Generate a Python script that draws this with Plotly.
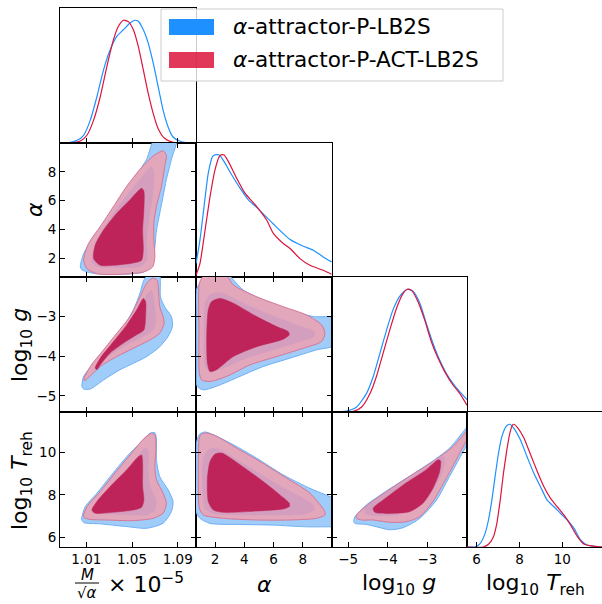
import plotly.graph_objects as go

# ---------------- parameters / axes ----------------
PARAM_RANGES = [(0.987, 1.106), (0.7, 10.0), (-5.41, -2.0), (5.55, 11.85)]
ROW_RANGES = [(0.987, 1.106), (0.7, 10.0), (-5.41, -2.0), (5.55, 11.9)]
TICKVALS = [[1.01, 1.05, 1.09], [2, 4, 6, 8], [-5, -4, -3], [6, 8, 10]]
TICKTEXT = [["1.01", "1.05", "1.09"], ["2", "4", "6", "8"], ["\u22125", "\u22124", "\u22123"], ["6", "8", "10"]]
LEGEND_NAMES = ["\u03b1-attractor-P-LB2S", "\u03b1-attractor-P-ACT-LB2S"]

# ---------------- 1D marginals ----------------
m_blue_x = [0.987, 0.9932, 1.0019, 1.0077, 1.0135, 1.0193, 1.0251, 1.0309, 1.0367, 1.0425, 1.0483, 1.0526, 1.0555, 1.0599, 1.0642, 1.0686, 1.0729, 1.0772, 1.0816, 1.0859, 1.0917, 1.0975, 1.1057]
m_blue_y = [0, 0.0, 0.022, 0.063, 0.186, 0.377, 0.596, 0.760, 0.869, 0.923, 0.978, 1.0, 0.992, 0.923, 0.814, 0.650, 0.459, 0.268, 0.131, 0.049, 0.016, 0.003, 0.0]
m_red_x = [0.987, 0.9961, 1.0048, 1.0106, 1.0164, 1.0222, 1.0280, 1.0338, 1.0381, 1.0425, 1.0468, 1.0512, 1.0555, 1.0599, 1.0642, 1.0686, 1.0729, 1.0787, 1.0859, 1.1057]
m_red_y = [0, 0.0, 0.016, 0.063, 0.186, 0.377, 0.623, 0.842, 0.951, 1.0, 0.989, 0.923, 0.787, 0.596, 0.404, 0.240, 0.117, 0.036, 0.005, 0.0]

a_blue_x = [0.70, 0.97, 1.25, 1.54, 1.84, 2.07, 2.30, 2.57, 3.14, 3.71, 4.28, 4.85, 5.99, 7.13, 8.04, 8.72, 9.40, 9.97]
a_blue_y = [0.110, 0.303, 0.578, 0.853, 0.990, 1.004, 1.001, 0.957, 0.839, 0.729, 0.633, 0.572, 0.435, 0.308, 0.253, 0.220, 0.165, 0.124]
a_red_x = [0.70, 0.97, 1.32, 1.66, 2.00, 2.30, 2.46, 2.62, 2.91, 3.48, 4.05, 4.85, 5.53, 5.99, 6.67, 7.13, 7.81, 8.49, 9.40, 9.97]
a_red_y = [0.014, 0.110, 0.385, 0.660, 0.880, 0.990, 1.004, 1.001, 0.949, 0.811, 0.688, 0.578, 0.468, 0.358, 0.275, 0.234, 0.151, 0.096, 0.055, 0.022]

g_blue_x = [-5.41, -5.04, -4.79, -4.54, -4.37, -4.20, -4.03, -3.87, -3.70, -3.51, -3.36, -3.19, -3.03, -2.86, -2.69, -2.52, -2.35, -2.18, -2.0]
g_blue_y = [0, 0.008, 0.041, 0.150, 0.287, 0.478, 0.669, 0.832, 0.942, 1.0, 0.983, 0.887, 0.723, 0.560, 0.423, 0.314, 0.232, 0.164, 0.101]
g_red_x = [-5.41, -4.87, -4.66, -4.45, -4.29, -4.12, -3.95, -3.78, -3.61, -3.51, -3.40, -3.24, -3.07, -2.90, -2.73, -2.56, -2.35, -2.18, -2.0]
g_red_y = [0, 0.005, 0.041, 0.150, 0.287, 0.478, 0.669, 0.846, 0.969, 1.0, 0.991, 0.901, 0.751, 0.573, 0.437, 0.327, 0.218, 0.150, 0.055]

t_blue_x = [5.55, 5.92, 6.16, 6.39, 6.55, 6.71, 6.86, 7.02, 7.18, 7.38, 7.54, 7.73, 8.04, 8.35, 8.67, 8.98, 9.29, 9.61, 9.92, 10.24, 10.55, 10.86, 11.18, 11.85]
t_blue_y = [0, 0, 0.027, 0.109, 0.218, 0.382, 0.573, 0.764, 0.901, 0.983, 1.0, 0.969, 0.873, 0.737, 0.600, 0.491, 0.382, 0.328, 0.273, 0.218, 0.150, 0.055, 0.014, 0]
t_red_x = [5.55, 6.31, 6.55, 6.78, 6.94, 7.10, 7.25, 7.41, 7.55, 7.68, 7.74, 7.90, 8.20, 8.51, 8.82, 9.14, 9.45, 9.76, 10.08, 10.39, 10.71, 11.02, 11.85]
t_red_y = [0, 0, 0.022, 0.082, 0.191, 0.382, 0.600, 0.791, 0.928, 0.995, 1.0, 0.975, 0.890, 0.755, 0.620, 0.491, 0.396, 0.328, 0.259, 0.177, 0.082, 0.022, 0]

# ---------------- 2D contours (outer = 95%, inner = 68%) ----------------
# (M, alpha)
ma_blue_outer = ([1.0048, 1.0077, 1.0164, 1.0280, 1.0396, 1.0512, 1.0628, 1.0700, 1.0888, 1.0845, 1.0801, 1.0772, 1.0743, 1.0714, 1.0700, 1.0671, 1.0599, 1.0367, 1.0164, 1.0062],
                 [1.40, 2.33, 3.50, 4.66, 6.07, 7.47, 8.87, 10.3, 10.3, 8.87, 7.47, 6.30, 5.13, 3.96, 2.79, 1.51, 1.04, 0.88, 0.95, 1.20])
ma_red_outer = ([1.0077, 1.0120, 1.0222, 1.0338, 1.0454, 1.0570, 1.0686, 1.0772, 1.0801, 1.0787, 1.0758, 1.0714, 1.0691, 1.0691, 1.0700, 1.0680, 1.0599, 1.0367, 1.0193, 1.0106],
                [1.86, 3.03, 4.20, 5.60, 7.00, 8.17, 9.10, 9.45, 9.15, 8.40, 7.00, 5.60, 4.43, 3.26, 2.09, 1.39, 1.04, 0.88, 0.93, 1.28])
ma_blue_inner = ([1.0149, 1.0178, 1.0280, 1.0425, 1.0570, 1.0671, 1.0691, 1.0680, 1.0651, 1.0628, 1.0628, 1.0570, 1.0367, 1.0193],
                 [1.74, 3.03, 4.43, 6.07, 7.47, 8.36, 7.93, 6.30, 4.90, 3.26, 1.86, 1.44, 1.35, 1.44])
ma_red_inner = ([1.0164, 1.0178, 1.0251, 1.0367, 1.0483, 1.0584, 1.0604, 1.0604, 1.0593, 1.0599, 1.0584, 1.0512, 1.0338, 1.0222],
                [1.98, 2.91, 3.96, 5.13, 6.07, 6.86, 6.65, 5.36, 3.96, 2.56, 1.86, 1.67, 1.51, 1.51])

# (M, log10 g)
mg_blue_outer = ([1.0062, 1.0077, 1.0193, 1.0309, 1.0425, 1.0512, 1.0570, 1.0604, 1.0657, 1.0738, 1.0749, 1.0787, 1.0845, 1.0854, 1.0816, 1.0743, 1.0628, 1.0512, 1.0396, 1.0251, 1.0135, 1.0077],
                 [-4.76, -4.51, -4.09, -3.67, -3.25, -2.83, -2.41, -2.08, -1.9, -1.9, -2.50, -2.76, -3.00, -3.25, -3.50, -3.76, -4.01, -4.18, -4.34, -4.60, -4.83, -4.83])
mg_red_outer = ([1.0077, 1.0135, 1.0251, 1.0367, 1.0483, 1.0570, 1.0628, 1.0680, 1.0720, 1.0732, 1.0743, 1.0772, 1.0781, 1.0743, 1.0657, 1.0512, 1.0367, 1.0222, 1.0135, 1.0091],
                [-4.60, -4.26, -3.84, -3.42, -3.00, -2.50, -2.16, -2.03, -2.08, -2.33, -2.75, -3.00, -3.17, -3.42, -3.59, -3.80, -4.01, -4.26, -4.50, -4.61])
mg_blue_inner = ([1.0164, 1.0280, 1.0425, 1.0541, 1.0628, 1.0671, 1.0694, 1.0709, 1.0686, 1.0599, 1.0454, 1.0309, 1.0193],
                 [-4.34, -3.92, -3.42, -2.92, -2.45, -2.34, -2.66, -3.08, -3.34, -3.50, -3.71, -3.97, -4.26])
mg_red_inner = ([1.0178, 1.0222, 1.0338, 1.0454, 1.0541, 1.0599, 1.0619, 1.0619, 1.0604, 1.0541, 1.0425, 1.0309, 1.0222, 1.0193],
                [-4.30, -4.05, -3.63, -3.21, -2.83, -2.54, -2.62, -3.00, -3.34, -3.46, -3.67, -3.92, -4.22, -4.34])

# (M, log10 Treh)
mt_blue_outer = ([1.0062, 1.0091, 1.0193, 1.0309, 1.0454, 1.0570, 1.0657, 1.0700, 1.0714, 1.0714, 1.0743, 1.0816, 1.0859, 1.0845, 1.0772, 1.0628, 1.0454, 1.0222, 1.0077, 1.0057],
                 [6.98, 7.45, 8.08, 8.86, 9.80, 10.43, 10.90, 10.93, 10.59, 9.65, 8.86, 8.24, 7.69, 7.22, 6.67, 6.43, 6.51, 6.64, 6.70, 6.90])
mt_red_outer = ([1.0077, 1.0106, 1.0222, 1.0338, 1.0483, 1.0599, 1.0671, 1.0700, 1.0709, 1.0700, 1.0714, 1.0772, 1.0801, 1.0772, 1.0686, 1.0512, 1.0280, 1.0128, 1.0077],
                [7.06, 7.45, 8.16, 8.94, 9.88, 10.62, 10.90, 10.82, 10.12, 9.33, 8.71, 8.08, 7.61, 7.14, 6.90, 6.79, 6.82, 6.85, 6.95])
mt_blue_inner = ([1.0149, 1.0251, 1.0396, 1.0541, 1.0613, 1.0642, 1.0642, 1.0657, 1.0709, 1.0700, 1.0628, 1.0454, 1.0222, 1.0149],
                 [7.29, 8.00, 8.86, 9.73, 10.20, 10.12, 9.18, 8.39, 7.76, 7.29, 7.06, 7.06, 7.11, 7.17])
mt_red_inner = ([1.0149, 1.0193, 1.0309, 1.0454, 1.0555, 1.0584, 1.0593, 1.0593, 1.0604, 1.0584, 1.0512, 1.0309, 1.0178],
                [7.29, 7.69, 8.39, 9.18, 9.80, 9.88, 9.49, 8.39, 7.76, 7.42, 7.29, 7.17, 7.14])

# (alpha, log10 g)
ag_blue_outer = ([0.75, 1.1, 1.5, 2.9, 3.2, 3.94, 5.30, 7.13, 8.72, 10.3, 10.3, 8.95, 7.13, 5.30, 3.71, 2.11, 1.2, 0.78, 0.72, 0.72],
                 [-2.3, -2.08, -1.95, -1.95, -2.05, -2.33, -2.58, -2.83, -3.0, -3.04, -3.71, -3.84, -4.05, -4.26, -4.51, -4.76, -4.85, -4.76, -4.2, -3.0])
ag_red_outer = ([0.93, 1.2, 2.8, 3.25, 4.85, 6.67, 8.26, 9.29, 9.52, 9.29, 8.04, 6.21, 4.39, 2.80, 1.66, 1.09, 0.93, 0.90],
                [-2.16, -1.98, -1.98, -2.20, -2.50, -2.75, -2.96, -3.21, -3.42, -3.63, -3.80, -4.01, -4.22, -4.51, -4.64, -4.60, -4.43, -3.3])
ag_blue_inner = ([1.32, 1.66, 2.34, 3.71, 5.53, 7.58, 8.77, 8.77, 7.81, 5.99, 4.16, 2.57, 1.66, 1.32, 1.25],
                 [-2.66, -2.45, -2.39, -2.62, -2.92, -3.21, -3.38, -3.50, -3.63, -3.84, -4.05, -4.30, -4.39, -4.26, -3.50])
ag_red_inner = ([1.54, 1.77, 2.34, 3.25, 4.85, 6.21, 7.01, 7.08, 6.67, 4.85, 3.25, 2.11, 1.66, 1.48, 1.43],
                [-2.83, -2.62, -2.54, -2.66, -3.00, -3.25, -3.38, -3.46, -3.57, -3.76, -4.01, -4.34, -4.39, -4.18, -3.50])

# (alpha, log10 Treh)
at_blue_outer = ([0.75, 0.97, 1.32, 1.89, 3.25, 4.85, 6.67, 8.49, 9.86, 10.3, 10.3, 9.86, 8.26, 5.99, 3.71, 1.66, 0.97, 0.70, 0.70],
                 [10.52, 10.87, 10.96, 10.83, 10.36, 9.73, 8.94, 8.31, 7.92, 7.75, 6.50, 6.50, 6.50, 6.58, 6.61, 6.66, 6.90, 7.21, 9.10])
at_red_outer = ([0.93, 1.09, 1.43, 2.11, 3.48, 5.08, 6.90, 8.49, 9.52, 9.52, 8.95, 7.13, 4.85, 2.57, 1.20, 0.93, 0.86],
                [10.68, 10.87, 10.91, 10.76, 10.20, 9.57, 8.79, 8.08, 7.21, 7.06, 6.90, 6.82, 6.82, 6.90, 7.06, 7.37, 9.10])
at_blue_inner = ([1.20, 1.54, 2.11, 3.71, 5.53, 7.13, 8.72, 8.77, 8.04, 5.99, 3.71, 1.89, 1.32, 1.16],
                 [9.73, 10.13, 10.20, 9.57, 8.79, 8.16, 7.53, 7.29, 7.09, 7.06, 7.06, 7.13, 7.37, 8.31])
at_red_inner = ([1.66, 2.00, 2.46, 3.71, 5.30, 6.44, 7.08, 7.08, 6.67, 4.85, 2.57, 1.89, 1.54, 1.48],
                [9.57, 9.92, 9.97, 9.42, 8.63, 8.00, 7.61, 7.45, 7.34, 7.24, 7.18, 7.29, 7.69, 8.79])

# (log10 g, log10 Treh)
gt_blue_outer = ([-4.86, -4.83, -4.54, -4.12, -3.53, -2.94, -2.44, -1.85, -1.85, -2.02, -2.14, -2.44, -2.77, -3.19, -3.61, -3.95, -4.20, -4.54, -4.83],
                 [6.74, 6.98, 7.53, 8.08, 8.79, 9.50, 10.20, 11.46, 10.80, 10.28, 9.89, 8.87, 7.76, 6.90, 6.46, 6.36, 6.46, 6.61, 6.66])
gt_red_outer = ([-4.79, -4.45, -4.03, -3.45, -2.86, -2.35, -2.02, -1.85, -1.85, -2.02, -2.18, -2.52, -2.86, -3.19, -3.53, -3.95, -4.37, -4.66, -4.79],
                [7.06, 7.61, 8.16, 8.87, 9.57, 10.28, 10.99, 11.35, 10.87, 10.52, 9.97, 8.79, 7.69, 6.98, 6.74, 6.71, 6.82, 6.82, 6.90])
gt_blue_inner = ([-4.58, -4.20, -3.61, -3.03, -2.61, -2.56, -2.69, -2.94, -3.28, -3.78, -4.29, -4.55],
                 [7.33, 7.88, 8.59, 9.30, 9.85, 9.55, 8.79, 8.00, 7.45, 7.06, 7.02, 7.09])
gt_red_inner = ([-4.37, -4.12, -3.61, -3.03, -2.73, -2.67, -2.69, -2.86, -3.11, -3.45, -3.95, -4.33],
                [7.37, 7.76, 8.47, 9.18, 9.65, 9.61, 9.10, 8.31, 7.61, 7.21, 7.13, 7.18])

# ---------------- styling ----------------
BLUE_LINE = "rgb(30,144,255)"
RED_LINE = "rgb(220,20,60)"
BLUE_OUTER = "rgb(160,204,249)"
BLUE_OUTER_EDGE = "rgb(110,175,245)"
RED_OUTER = "rgb(226,167,187)"
RED_OUTER_EDGE = "rgb(214,118,150)"
MAUVE = "rgb(212,158,190)"
RED_INNER = "rgb(190,36,89)"
FONT = "DejaVu Sans"
W, H = 602, 604
COLS = [(60, 196), (196, 332), (332, 467), (467, 602)]
ROWS = [(8, 143), (143, 277), (277, 412), (412, 547)]

panels = [(0, 0), (1, 0), (1, 1), (2, 0), (2, 1), (2, 2), (3, 0), (3, 1), (3, 2), (3, 3)]
diag_data = {0: (m_blue_x, m_blue_y, m_red_x, m_red_y),
             1: (a_blue_x, a_blue_y, a_red_x, a_red_y),
             2: (g_blue_x, g_blue_y, g_red_x, g_red_y),
             3: (t_blue_x, t_blue_y, t_red_x, t_red_y)}
pair_data = {(1, 0): (ma_blue_outer, ma_red_outer, ma_blue_inner, ma_red_inner),
             (2, 0): (mg_blue_outer, mg_red_outer, mg_blue_inner, mg_red_inner),
             (3, 0): (mt_blue_outer, mt_red_outer, mt_blue_inner, mt_red_inner),
             (2, 1): (ag_blue_outer, ag_red_outer, ag_blue_inner, ag_red_inner),
             (3, 1): (at_blue_outer, at_red_outer, at_blue_inner, at_red_inner),
             (3, 2): (gt_blue_outer, gt_red_outer, gt_blue_inner, gt_red_inner)}

fig = go.Figure()


def closed(xs, ys):
    return list(xs) + [xs[0]], list(ys) + [ys[0]]


layout = {}
for k, (r, c) in enumerate(panels, start=1):
    xa = "x" if k == 1 else f"x{k}"
    ya = "y" if k == 1 else f"y{k}"
    x0, x1 = COLS[c]
    y0, y1 = ROWS[r]
    base = dict(showline=True, linecolor="black", linewidth=1, showgrid=False, zeroline=False,
                ticks="inside", ticklen=5, tickwidth=1, tickcolor="black",
                tickfont=dict(family=FONT, size=13.5, color="black"))
    xaxis = dict(base, domain=[x0 / W, x1 / W], anchor=ya, range=list(PARAM_RANGES[c]),
                 tickmode="array", tickvals=TICKVALS[c], ticktext=TICKTEXT[c],
                 showticklabels=(r == 3), mirror=("ticks" if r != c else True))
    if r == c:
        yaxis = dict(base, domain=[1 - y1 / H, 1 - y0 / H], anchor=xa, range=[0, 1.1],
                     ticks="", showticklabels=False, mirror=True)
        bx, by, rx, ry = diag_data[c]
        fig.add_trace(go.Scatter(x=bx, y=by, mode="lines", line=dict(color=BLUE_LINE, width=1.2, shape="spline", smoothing=0.6),
                                 xaxis=xa, yaxis=ya, showlegend=False, hoverinfo="skip"))
        fig.add_trace(go.Scatter(x=rx, y=ry, mode="lines", line=dict(color=RED_LINE, width=1.2, shape="spline", smoothing=0.6),
                                 xaxis=xa, yaxis=ya, showlegend=False, hoverinfo="skip"))
    else:
        yaxis = dict(base, domain=[1 - y1 / H, 1 - y0 / H], anchor=xa, range=list(ROW_RANGES[r]),
                     tickmode="array", tickvals=TICKVALS[r], ticktext=TICKTEXT[r],
                     showticklabels=(c == 0), mirror="ticks")
        bo, ro, bi, ri = pair_data[(r, c)]
        specs = [(bo, BLUE_OUTER, BLUE_OUTER_EDGE, 1.0),
                 (ro, RED_OUTER, RED_OUTER_EDGE, 1.0),
                 (bi, MAUVE, MAUVE, 0.5),
                 (ri, RED_INNER, RED_INNER, 0.5)]
        for poly, fc, lc, lw in specs:
            px_, py_ = closed(*poly)
            fig.add_trace(go.Scatter(x=px_, y=py_, mode="lines", fill="toself", fillcolor=fc,
                                     line=dict(color=lc, width=lw, shape="spline", smoothing=0.7),
                                     xaxis=xa, yaxis=ya, showlegend=False, hoverinfo="skip"))
    layout["xaxis" if k == 1 else f"xaxis{k}"] = xaxis
    layout["yaxis" if k == 1 else f"yaxis{k}"] = yaxis


def px(x):
    return x / W


def py(y):
    return 1 - y / H


shapes = []
annotations = []
# legend box
shapes.append(dict(type="rect", xref="paper", yref="paper", x0=px(161), x1=px(503), y0=py(81), y1=py(9),
                   fillcolor="rgba(255,255,255,0.8)", line=dict(color="rgb(204,204,204)", width=1), layer="above"))
shapes.append(dict(type="rect", xref="paper", yref="paper", x0=px(169), x1=px(214), y0=py(35), y1=py(19),
                   fillcolor=BLUE_LINE, line=dict(width=0), layer="above"))
shapes.append(dict(type="rect", xref="paper", yref="paper", x0=px(169), x1=px(214), y0=py(68), y1=py(52),
                   fillcolor="rgba(220,20,60,0.85)", line=dict(width=0), layer="above"))
for name, yy in zip(LEGEND_NAMES, [27, 60]):
    annotations.append(dict(xref="paper", yref="paper", x=px(231), y=py(yy), xanchor="left", yanchor="middle",
                            text=name.replace("\u03b1", "<i>\u03b1</i>", 1), showarrow=False,
                            font=dict(family=FONT, size=21.6, color="black")))

LBL = dict(family=FONT, size=22, color="black")
# y-axis titles
annotations.append(dict(xref="paper", yref="paper", x=px(34), y=py(210), text="<i>\u03b1</i>", textangle=-90,
                        showarrow=False, font=LBL, xanchor="center", yanchor="middle"))
annotations.append(dict(xref="paper", yref="paper", x=px(21), y=py(345), text="log<sub>10</sub> <i>g</i>", textangle=-90,
                        showarrow=False, font=LBL, xanchor="center", yanchor="middle"))
annotations.append(dict(xref="paper", yref="paper", x=px(21), y=py(481), text="log<sub>10</sub> <i>T</i><sub>reh</sub>", textangle=-90,
                        showarrow=False, font=LBL, xanchor="center", yanchor="middle"))
# x-axis titles
annotations.append(dict(xref="paper", yref="paper", x=px(87), y=py(575), text="<i>M</i>", showarrow=False,
                        font=dict(family=FONT, size=15, color="black"), xanchor="center", yanchor="middle"))
annotations.append(dict(xref="paper", yref="paper", x=px(87), y=py(593), text="\u221a<i>\u03b1</i>", showarrow=False,
                        font=dict(family=FONT, size=15, color="black"), xanchor="center", yanchor="middle"))
shapes.append(dict(type="line", xref="paper", yref="paper", x0=px(75), x1=px(99), y0=py(583), y1=py(583),
                   line=dict(color="black", width=1)))
annotations.append(dict(xref="paper", yref="paper", x=px(106), y=py(583), text="\u00d7 10<sup>\u22125</sup>", showarrow=False,
                        font=LBL, xanchor="left", yanchor="middle"))
annotations.append(dict(xref="paper", yref="paper", x=px(264), y=py(584), text="<i>\u03b1</i>", showarrow=False,
                        font=LBL, xanchor="center", yanchor="middle"))
annotations.append(dict(xref="paper", yref="paper", x=px(399), y=py(584), text="log<sub>10</sub> <i>g</i>", showarrow=False,
                        font=LBL, xanchor="center", yanchor="middle"))
annotations.append(dict(xref="paper", yref="paper", x=px(535), y=py(584), text="log<sub>10</sub> <i>T</i><sub>reh</sub>", showarrow=False,
                        font=LBL, xanchor="center", yanchor="middle"))

fig.update_layout(width=W, height=H, margin=dict(l=0, r=0, t=0, b=0), paper_bgcolor="white", plot_bgcolor="white",
                  showlegend=False, shapes=shapes, annotations=annotations, font=dict(family=FONT), **layout)
fig.write_html("out.html")
